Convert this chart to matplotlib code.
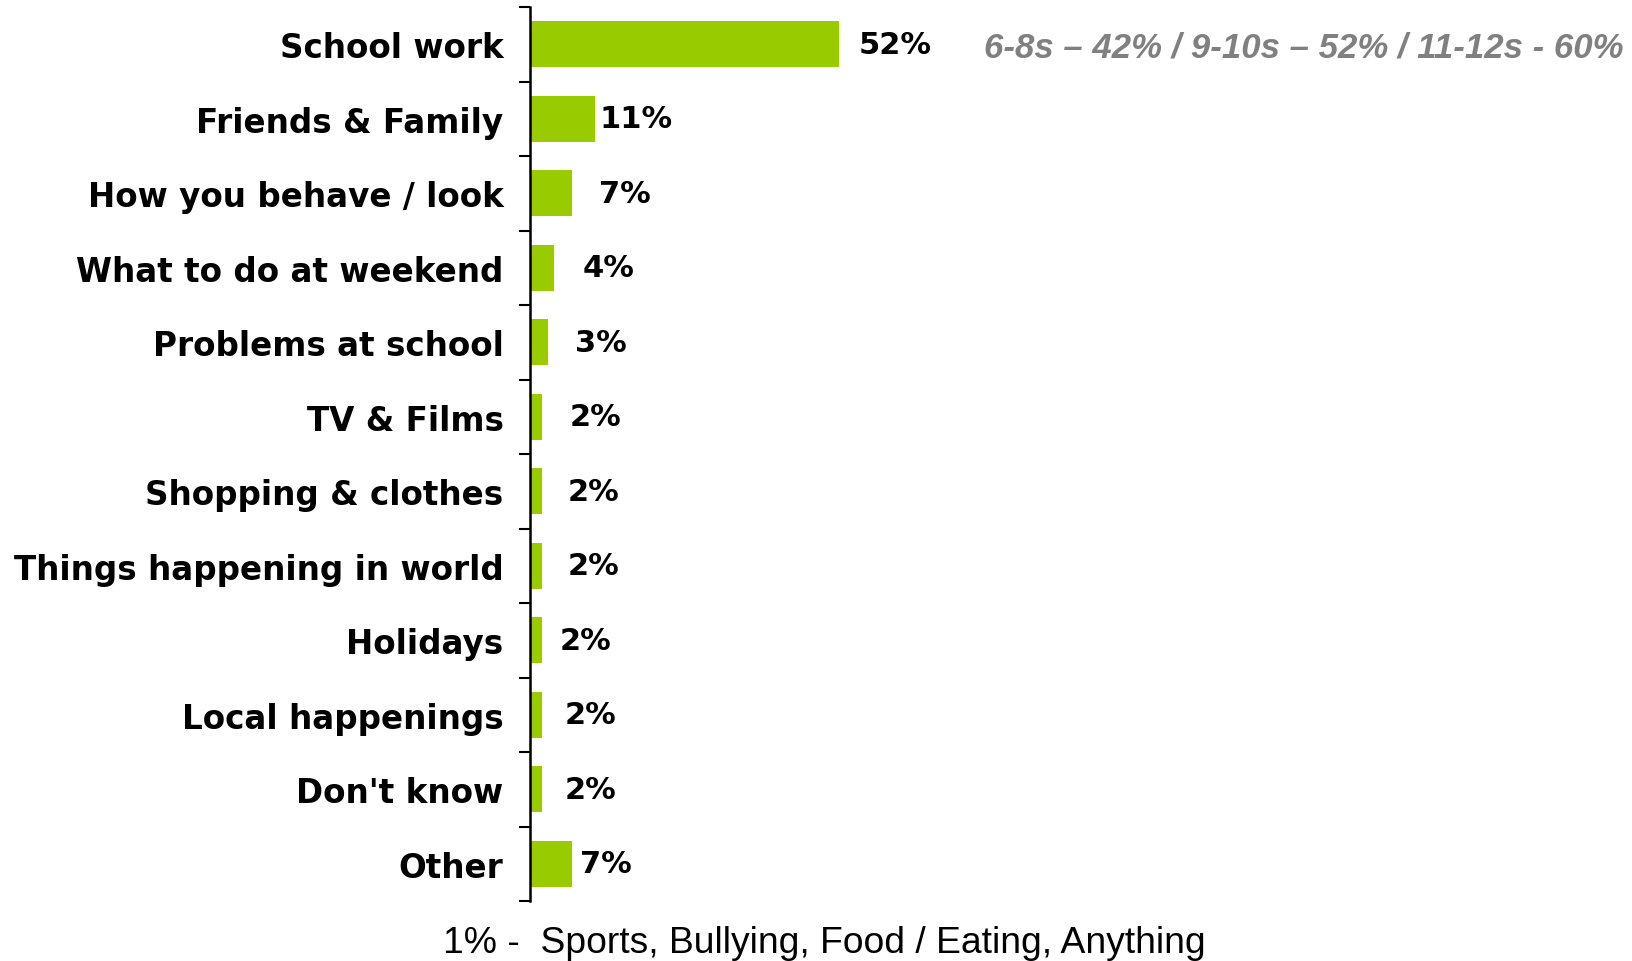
import matplotlib
matplotlib.use("Agg")
import matplotlib.pyplot as plt
import numpy as np

# chart data
categories = ["School work", "Friends & Family", "How you behave / look",
              "What to do at weekend", "Problems at school", "TV & Films",
              "Shopping & clothes", "Things happening in world", "Holidays",
              "Local happenings", "Don't know", "Other"]
values = [52, 11, 7, 4, 3, 2, 2, 2, 2, 2, 2, 7]
value_labels = ["52%", "11%", "7%", "4%", "3%", "2%", "2%", "2%", "2%", "2%", "2%", "7%"]
age_note = "6-8s \u2013 42% / 9-10s \u2013 52% / 11-12s - 60%"
footnote = "1% -  Sports, Bullying, Food / Eating, Anything"

# gap (px) between bar end and its label, as laid out in the original slide
label_gap = [19, 4, 27, 29, 27, 28, 26, 26, 18, 23, 23, 8]

W, H = 1633, 962
fig = plt.figure(figsize=(W / 100, H / 100), dpi=100)
ax = fig.add_axes([530 / W, 1 - 902 / H, 595 / W, (902 - 8) / H])

y = np.arange(len(categories))
ax.barh(y, values, height=0.62, color="#99CC00")
ax.set_xlim(0, 100)
ax.set_ylim(len(categories) - 0.5, -0.5)

for s in ["top", "right", "bottom"]:
    ax.spines[s].set_visible(False)
ax.spines["left"].set_linewidth(1.8)
ax.set_xticks([])

ax.set_yticks(y)
ax.set_yticklabels(categories, fontfamily="DejaVu Sans", fontweight="bold", fontsize=23.5)
ax.tick_params(axis="y", which="major", length=0, pad=19)
ax.set_yticks(np.arange(len(categories) + 1) - 0.5, minor=True)
ax.tick_params(axis="y", which="minor", length=8, width=1.5, direction="out")

for yi, v, lab, gap in zip(y, values, value_labels, label_gap):
    ax.annotate(lab, (v, yi), xytext=(gap * 0.72, 0), textcoords="offset points",
                ha="left", va="center", fontfamily="DejaVu Sans", fontweight="bold",
                fontsize=22)

fig.text(984 / W, 1 - 48 / H, age_note, fontfamily="Liberation Sans", fontweight="bold",
         fontstyle="italic", fontsize=25, color="#808080", ha="left", va="center")
fig.text(443 / W, 1 - 944 / H, footnote, fontfamily="Liberation Sans", fontsize=26.8,
         color="black", ha="left", va="center")

fig.savefig("out.png", dpi=100)
